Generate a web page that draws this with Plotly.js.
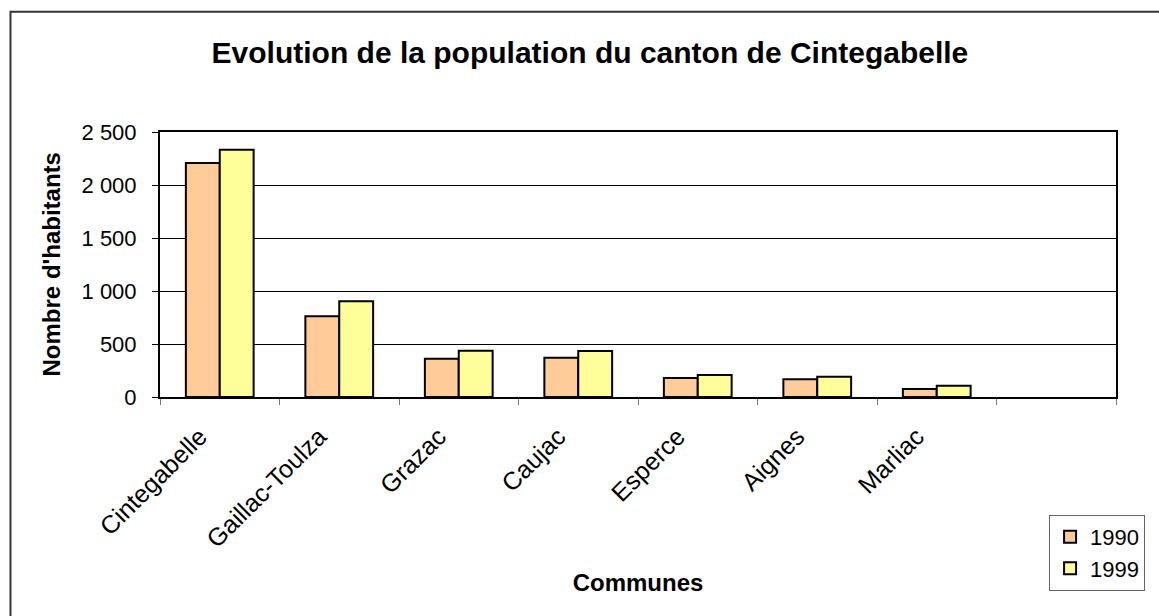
<!DOCTYPE html>
<html><head><meta charset="utf-8">
<script src="https://cdn.plot.ly/plotly-3.0.1.min.js"></script>
<style>html,body{margin:0;padding:0;background:#fff;}#chart{width:1159px;height:616px;}</style>
</head><body><div id="chart"></div>
<script>
var communes = ["Cintegabelle","Gaillac-Toulza","Grazac","Caujac","Esperce","Aignes","Marliac"];
var slots = communes.concat([" "]);
var pop1990 = [2208, 761, 361, 371, 179, 167, 75];
var pop1999 = [2333, 903, 437, 434, 208, 192, 107];
var years = ["1990","1999"];
var font = "Liberation Sans, Arial, sans-serif";
var data = [
  {type:"bar", name:years[0], x:communes, y:pop1990, marker:{color:"#FFCC99", line:{color:"#000", width:2}}},
  {type:"bar", name:years[1], x:communes, y:pop1999, marker:{color:"#FFFF99", line:{color:"#000", width:2}}}
];
var layout = {
  width:1159, height:616,
  margin:{l:160, r:43, t:132, b:219},
  paper_bgcolor:"#fff", plot_bgcolor:"#fff",
  separators:", ",
  font:{family:font, color:"#000", size:22},
  bargap:0.433, bargroupgap:0,
  title:{text:"<b>Evolution de la population du canton de Cintegabelle</b>", font:{family:font, size:30, color:"#000"}, x:0.509, xanchor:"center", y:0.915, yanchor:"middle"},
  xaxis:{type:"category", categoryorder:"array", categoryarray:slots, range:[-0.5,7.5], tickson:"boundaries",
    ticks:"outside", ticklen:6, tickcolor:"#777", tickwidth:1, tickangle:-45, ticklabelstandoff:13, ticklabelshift:-20,
    showline:true, linecolor:"#000", linewidth:2, mirror:true, showgrid:false,
    tickfont:{family:font, size:25, color:"#000"}, automargin:false,
    title:{text:"<b>Communes</b>", font:{family:font, size:24}, standoff:22}},
  yaxis:{range:[0,2500], dtick:500, tickformat:",d", ticks:"outside", ticklen:6, tickcolor:"#000", ticklabelstandoff:11,
    showline:true, linecolor:"#000", linewidth:2, mirror:true,
    showgrid:true, gridcolor:"#000", gridwidth:1, zeroline:false, automargin:false,
    tickfont:{family:font, size:22, color:"#000"}},
  annotations:[{text:"<b>Nombre d'habitants</b>", xref:"paper", yref:"paper", x:-0.113, y:0.5, xanchor:"center", yanchor:"middle",
    textangle:-90, showarrow:false, font:{family:font, size:24, color:"#000"}}],
  showlegend:true,
  legend:{x:0.93, y:-0.445, xanchor:"left", yanchor:"top", bordercolor:"#666", borderwidth:1, bgcolor:"#fff",
    font:{family:font, size:22}, traceorder:"normal", tracegroupgap:4, itemwidth:30},
  shapes:[{type:"rect", xref:"paper", yref:"paper", x0:-0.1564, x1:1.2, y0:-1.2, y1:1.454, line:{color:"#333", width:2}, fillcolor:"rgba(0,0,0,0)", layer:"below"}]
};
Plotly.newPlot("chart", data, layout, {displayModeBar:false, staticPlot:true});
</script></body></html>
